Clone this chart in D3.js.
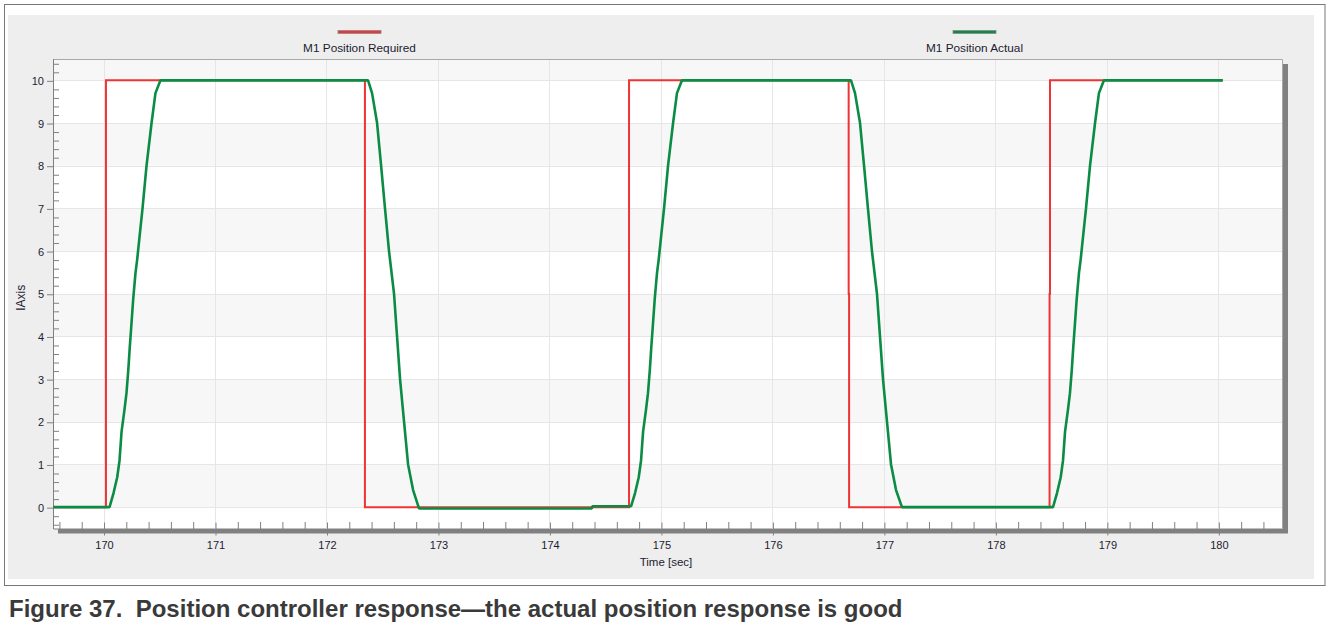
<!DOCTYPE html>
<html>
<head>
<meta charset="utf-8">
<script src="https://cdn.jsdelivr.net/npm/d3@7"></script>
<style>
  body { margin: 0; background: #fff; }
  svg { display: block; font-family: 'Liberation Sans', Arial, sans-serif; }
  .axis .tick text { font-size: 11px; fill: #1c1c30; }
</style>
</head>
<body>
<div id="chart"></div>
<script>
// Series: [time (s), position]
const seriesNames = ['M1 Position Required', 'M1 Position Actual']
const seriesColors = ['#ee3434', '#0b8c44']

const required = [
  [169.55, 0], [170.022, 10], [172.345, 0], [174.714, 10],
  [176.684, 5], [176.688, 0], [178.486, 5], [178.49, 10], [180.04, 10]
]

const actual = [
  [169.55, 0], [170.054, 0],
  // rise 1
  [170.090, 0.33], [170.123, 0.7], [170.144, 1.1], [170.162, 1.77], [170.188, 2.28],
  [170.206, 2.67], [170.222, 3.2], [170.236, 3.76], [170.249, 4.23], [170.266, 4.86],
  [170.287, 5.49], [170.302, 5.8], [170.350, 7], [170.386, 8], [170.431, 9],
  [170.466, 9.7], [170.511, 10],
  // fall 1
  [172.373, 10], [172.409, 9.7], [172.454, 9], [172.490, 8], [172.525, 7],
  [172.561, 6], [172.606, 5], [172.633, 4], [172.660, 3], [172.696, 2],
  [172.732, 1], [172.777, 0.4], [172.830, -0.03], [174.380, -0.03], [174.385, 0.02],
  // rise 2
  [174.732, 0.02], [174.768, 0.33], [174.801, 0.7], [174.822, 1.1], [174.840, 1.77],
  [174.866, 2.28], [174.884, 2.67], [174.900, 3.2], [174.914, 3.76], [174.927, 4.23],
  [174.944, 4.86], [174.965, 5.49], [174.980, 5.8], [175.028, 7], [175.064, 8],
  [175.109, 9], [175.144, 9.7], [175.189, 10],
  // fall 2
  [176.705, 10], [176.741, 9.7], [176.786, 9], [176.822, 8], [176.857, 7],
  [176.893, 6], [176.938, 5], [176.965, 4], [176.992, 3], [177.028, 2],
  [177.064, 1], [177.109, 0.4], [177.162, 0],
  // rise 3
  [178.517, 0], [178.553, 0.33], [178.586, 0.7], [178.607, 1.1], [178.625, 1.77],
  [178.651, 2.28], [178.669, 2.67], [178.685, 3.2], [178.699, 3.76], [178.712, 4.23],
  [178.729, 4.86], [178.750, 5.49], [178.765, 5.8], [178.813, 7], [178.849, 8],
  [178.894, 9], [178.929, 9.7], [178.974, 10], [180.04, 10]
]

const xTicks = [170, 171, 172, 173, 174, 175, 176, 177, 178, 179, 180]
const yTicks = [0, 1, 2, 3, 4, 5, 6, 7, 8, 9, 10]
const xTitle = 'Time [sec]'
const yTitle = 'IAxis'
const caption = 'Figure 37.  Position controller response\u2014the actual position response is good'

const width = 1327
const height = 626
const plot = { left: 53, right: 1283, top: 59, bottom: 528.5 }
const shadow = 5

const x = d3.scaleLinear()
  .domain([169.547, 180.58])
  .range([plot.left, plot.right])

const y = d3.scaleLinear()
  .domain([-0.5, 10.5])
  .range([plot.bottom, plot.top])

const svg = d3.select('#chart')
  .append('svg')
  .attr('width', width)
  .attr('height', height)

// Figure frame and grey panel
svg.append('rect')
  .attr('x', 4.5).attr('y', 4.5)
  .attr('width', 1320.5).attr('height', 581)
  .attr('fill', '#fff')
  .attr('stroke', '#777')

svg.append('rect')
  .attr('x', 8).attr('y', 15)
  .attr('width', 1306).attr('height', 564)
  .attr('fill', '#eeeeee')

// Legend, one slot per series across the plot width
const legendX = d3.scaleBand()
  .domain(seriesNames)
  .range([plot.left, plot.right])

const legend = svg.append('g').attr('class', 'legend')
  .selectAll('g')
  .data(seriesNames)
  .join('g')
  .attr('transform', d => `translate(${legendX(d) + legendX.bandwidth() / 2 - 1}, 0)`)

legend.append('rect')
  .attr('x', -21.5).attr('y', 30.5)
  .attr('width', 43).attr('height', 3)
  .attr('fill', (d, i) => seriesColors[i])
  .attr('stroke', '#8a8a8a')
  .attr('stroke-width', 0.8)

legend.append('text')
  .attr('y', 52)
  .attr('text-anchor', 'middle')
  .attr('font-size', 11.8)
  .attr('fill', '#1c1c30')
  .text(d => d)

// Plot shadow (right and bottom) and background
svg.append('rect')
  .attr('x', plot.left + shadow).attr('y', plot.top + shadow)
  .attr('width', plot.right - plot.left).attr('height', plot.bottom - plot.top)
  .attr('fill', '#808080')

svg.append('rect')
  .attr('x', plot.left).attr('y', plot.top)
  .attr('width', plot.right - plot.left).attr('height', plot.bottom - plot.top)
  .attr('fill', '#fff')

// Alternating bands between the integer gridlines
svg.append('g')
  .selectAll('rect')
  .data(yTicks.filter(d => d % 2 === 0))
  .join('rect')
  .attr('x', plot.left + 0.5)
  .attr('y', d => y(Math.min(d + 1, 10.5)))
  .attr('width', plot.right - plot.left - 1)
  .attr('height', d => y(d) - y(Math.min(d + 1, 10.5)))
  .attr('fill', '#f7f7f7')

// Gridlines
svg.append('g')
  .selectAll('line')
  .data(xTicks)
  .join('line')
  .attr('x1', d => Math.round(x(d)) + 0.5).attr('x2', d => Math.round(x(d)) + 0.5)
  .attr('y1', plot.top).attr('y2', plot.bottom)
  .attr('stroke', '#e6e6e6')

svg.append('g')
  .selectAll('line')
  .data(yTicks)
  .join('line')
  .attr('x1', plot.left).attr('x2', plot.right)
  .attr('y1', d => Math.round(y(d)) + 0.5).attr('y2', d => Math.round(y(d)) + 0.5)
  .attr('stroke', '#e6e6e6')

// Plot border
svg.append('path')
  .attr('d', `M${plot.left + 0.5},${plot.bottom}V${plot.top + 0.5}H${plot.right - 0.5}V${plot.bottom}`)
  .attr('fill', 'none')
  .attr('stroke', '#a8a8a8')

svg.append('path')
  .attr('d', `M${plot.left + 0.5},${plot.top}V${plot.bottom + 0.5}H${plot.left + shadow}`)
  .attr('fill', 'none')
  .attr('stroke', '#808080')

// Axes
const minorX = d3.range(169.6, 180.5, 0.2).filter(d => Math.abs(d - Math.round(d)) > 0.01)
const minorY = d3.range(-0.4, 10.5, 0.2).filter(d => Math.abs(d - Math.round(d)) > 0.01)

const styleTicks = g => {
  g.select('.domain').remove()
  g.selectAll('.tick line').attr('stroke', '#808080')
}

svg.append('g')
  .attr('class', 'axis axis--x-minor')
  .attr('transform', `translate(0.5, ${plot.bottom + 0.5})`)
  .call(d3.axisBottom(x).tickValues(minorX).tickSize(-7).tickFormat(''))
  .call(styleTicks)

svg.append('g')
  .attr('class', 'axis axis--x')
  .attr('transform', `translate(0.5, ${plot.bottom - 6})`)
  .call(d3.axisBottom(x).tickValues(xTicks).tickSize(13).tickPadding(6).tickFormat(d3.format('d')))
  .call(styleTicks)

svg.append('g')
  .attr('class', 'axis axis--y-minor')
  .attr('transform', `translate(${plot.left}, 0.5)`)
  .call(d3.axisLeft(y).tickValues(minorY).tickSize(-6).tickFormat(''))
  .call(styleTicks)

svg.append('g')
  .attr('class', 'axis axis--y')
  .attr('transform', `translate(${plot.left}, 0.5)`)
  .call(d3.axisLeft(y).tickValues(yTicks).tickSize(6).tickPadding(3))
  .call(styleTicks)

svg.append('text')
  .attr('x', (plot.left + plot.right) / 2 - 2)
  .attr('y', 566)
  .attr('text-anchor', 'middle')
  .attr('font-size', 11.5)
  .attr('fill', '#1c1c30')
  .text(xTitle)

svg.append('text')
  .attr('transform', `translate(25, ${(plot.top + plot.bottom) / 2 + 4}) rotate(-90)`)
  .attr('text-anchor', 'middle')
  .attr('font-size', 12)
  .attr('fill', '#1c1c30')
  .text(yTitle)

// Lines: the demand is a held step, the measured position is drawn point to point
const stepLine = d3.line()
  .x(d => x(d[0]))
  .y(d => y(d[1]))
  .curve(d3.curveStepAfter)

const plainLine = d3.line()
  .x(d => x(d[0]))
  .y(d => y(d[1]))

const lines = svg.append('g').attr('class', 'lines')

lines.append('path')
  .datum(required)
  .attr('d', stepLine)
  .attr('fill', 'none')
  .attr('stroke', seriesColors[0])
  .attr('stroke-width', 2)

lines.append('path')
  .datum(actual)
  .attr('d', plainLine)
  .attr('fill', 'none')
  .attr('stroke', seriesColors[1])
  .attr('stroke-width', 2.6)
  .attr('stroke-linejoin', 'bevel')

// Caption
svg.append('text')
  .attr('x', 9)
  .attr('y', 617)
  .attr('font-size', 24)
  .attr('font-weight', 'bold')
  .attr('fill', '#3a3a3a')
  .style('white-space', 'pre')
  .text(caption)
</script>
</body>
</html>
